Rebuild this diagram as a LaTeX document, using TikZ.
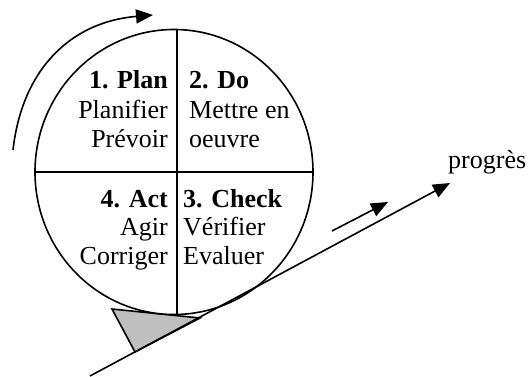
\documentclass[tikz,border=0pt]{standalone}
\usepackage{fontspec}
\setmainfont{Liberation Serif}
\usetikzlibrary{arrows.meta}

\newlength{\du}
\setlength{\du}{1pt}

\tikzset{
  trait/.style={line width=1.6\du},
  fleche/.style={trait, -{Triangle[length=17pt, width=14pt]}},
  etiquette/.style={inner sep=0pt, font=\fontsize{26}{29}\selectfont},
}

\begin{document}
\begin{tikzpicture}
\pgftransformxscale{1.000000}
\pgftransformyscale{-1.000000}
\useasboundingbox (0\du,0\du) rectangle (528\du,376\du);
% points de la roue et de la pente
\coordinate (haut) at (177\du,30\du);
\coordinate (bas) at (177\du,314\du);
\coordinate (gauche) at (35\du,172\du);
\coordinate (droite) at (312\du,172\du);
\coordinate (penteA) at (90\du,376\du);
\coordinate (penteB) at (450\du,183\du);
\coordinate (cale1) at (112\du,309\du);
\coordinate (cale2) at (135\du,352\du);
\coordinate (cale3) at (200\du,318\du);
\coordinate (petitA) at (332\du,231\du);
\coordinate (petitB) at (388\du,202\du);
\coordinate (tourA) at (13\du,150\du);
\coordinate (tourB) at (153\du,15\du);
% cale
\filldraw[trait, fill=gray!50, line join=miter] (cale1)--(cale2)--(cale3)--cycle;
% roue
\filldraw[trait, fill=white] (174\du,172\du) ellipse [x radius=139\du, y radius=142.5\du];
\draw[trait] (haut)--(bas);
\draw[trait] (gauche)--(droite);
% pente et progression
\draw[fleche] (penteA)--(penteB);
\draw[fleche] (petitA)--(petitB);
\draw[fleche] (tourA) .. controls (22\du,70\du) and (70\du,22\du) .. (tourB);
% textes
\node[etiquette, anchor=base east] (plan) at (168\du,88\du) {\textbf{1. Plan}};
\node[etiquette, anchor=base east] (planifier) at (168\du,118\du) {Planifier};
\node[etiquette, anchor=base east] (prevoir) at (168\du,147\du) {Prévoir};
\node[etiquette, anchor=base west] (do) at (189\du,88\du) {\textbf{2. Do}};
\node[etiquette, anchor=base west] (mettre) at (189\du,118\du) {Mettre en};
\node[etiquette, anchor=base west] (oeuvre) at (189\du,147\du) {oeuvre};
\node[etiquette, anchor=base east] (act) at (168\du,207\du) {\textbf{4. Act}};
\node[etiquette, anchor=base east] (agir) at (168\du,235\du) {Agir};
\node[etiquette, anchor=base east] (corriger) at (168\du,264\du) {Corriger};
\node[etiquette, anchor=base west] (check) at (183\du,207\du) {\textbf{3. Check}};
\node[etiquette, anchor=base west] (verifier) at (183\du,235\du) {Vérifier};
\node[etiquette, anchor=base west] (evaluer) at (183\du,264\du) {Evaluer};
\node[etiquette, anchor=base west] (progres) at (448\du,168\du) {progrès};
\end{tikzpicture}
\end{document}
